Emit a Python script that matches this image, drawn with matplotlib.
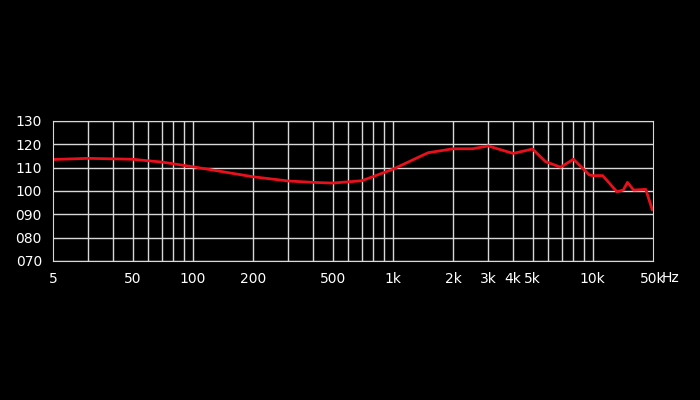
import matplotlib
matplotlib.use("Agg")
import matplotlib.pyplot as plt
import numpy as np

freqs = [20, 30, 50, 70, 100, 200, 300, 400, 500, 700, 1000, 1500, 2000, 2500, 3000, 4000, 5000,
         5800, 6900, 8000, 9600, 10000, 11200, 13200, 14200, 14900, 16000, 18400, 19800]
spl = [113.5, 114.0, 113.6, 112.4, 110.4, 106.1, 104.3, 103.7, 103.4, 104.4, 109.3, 116.4, 118.1, 118.1,
       119.3, 116.1, 118.0, 112.6, 110.2, 113.6, 106.9, 106.6, 106.6, 99.7, 100.4, 103.7, 100.4, 100.7, 92.1]

xtick_pos = [20, 50, 100, 200, 500, 1000, 2000, 3000, 4000, 5000, 10000, 20000]
xtick_lab = ["5", "50", "100", "200", "500", "1k", "2k", "3k", "4k", "5k", "10k", "50k"]
yticks = [70, 80, 90, 100, 110, 120, 130]
ytick_lab = ["070", "080", "090", "100", "110", "120", "130"]
grid_x = [30, 40, 50, 60, 70, 80, 90, 100, 200, 300, 400, 500, 600, 700, 800, 900,
          1000, 2000, 3000, 4000, 5000, 6000, 7000, 8000, 9000, 10000]

fig = plt.figure(figsize=(7, 4), dpi=100, facecolor="black")
ax = fig.add_axes([53/700, 1-261/400, 600/700, 140/400], facecolor="black")
ax.set_xscale("log")
ax.set_xlim(20, 20000)
ax.set_ylim(70, 130)
for g in grid_x:
    ax.axvline(g, color="#d8d8d8", lw=1)
for y in yticks:
    ax.axhline(y, color="#d8d8d8", lw=1)
for s in ax.spines.values():
    s.set_color("#d8d8d8")
ax.plot(freqs, spl, color="#e8101a", lw=2)
ax.xaxis.set_minor_locator(matplotlib.ticker.NullLocator())
ax.set_xticks(xtick_pos)
ax.set_xticklabels(xtick_lab)
ax.set_yticks(yticks)
ax.set_yticklabels(ytick_lab)
ax.tick_params(colors="white", labelsize=10, length=0, pad=8)
for lbl in ax.get_xticklabels() + ax.get_yticklabels():
    lbl.set_color("white")
fig.text(662/700, 1-278/400, "Hz", color="white", fontsize=10, va="center", ha="left")
fig.savefig("out.png", facecolor="black")
